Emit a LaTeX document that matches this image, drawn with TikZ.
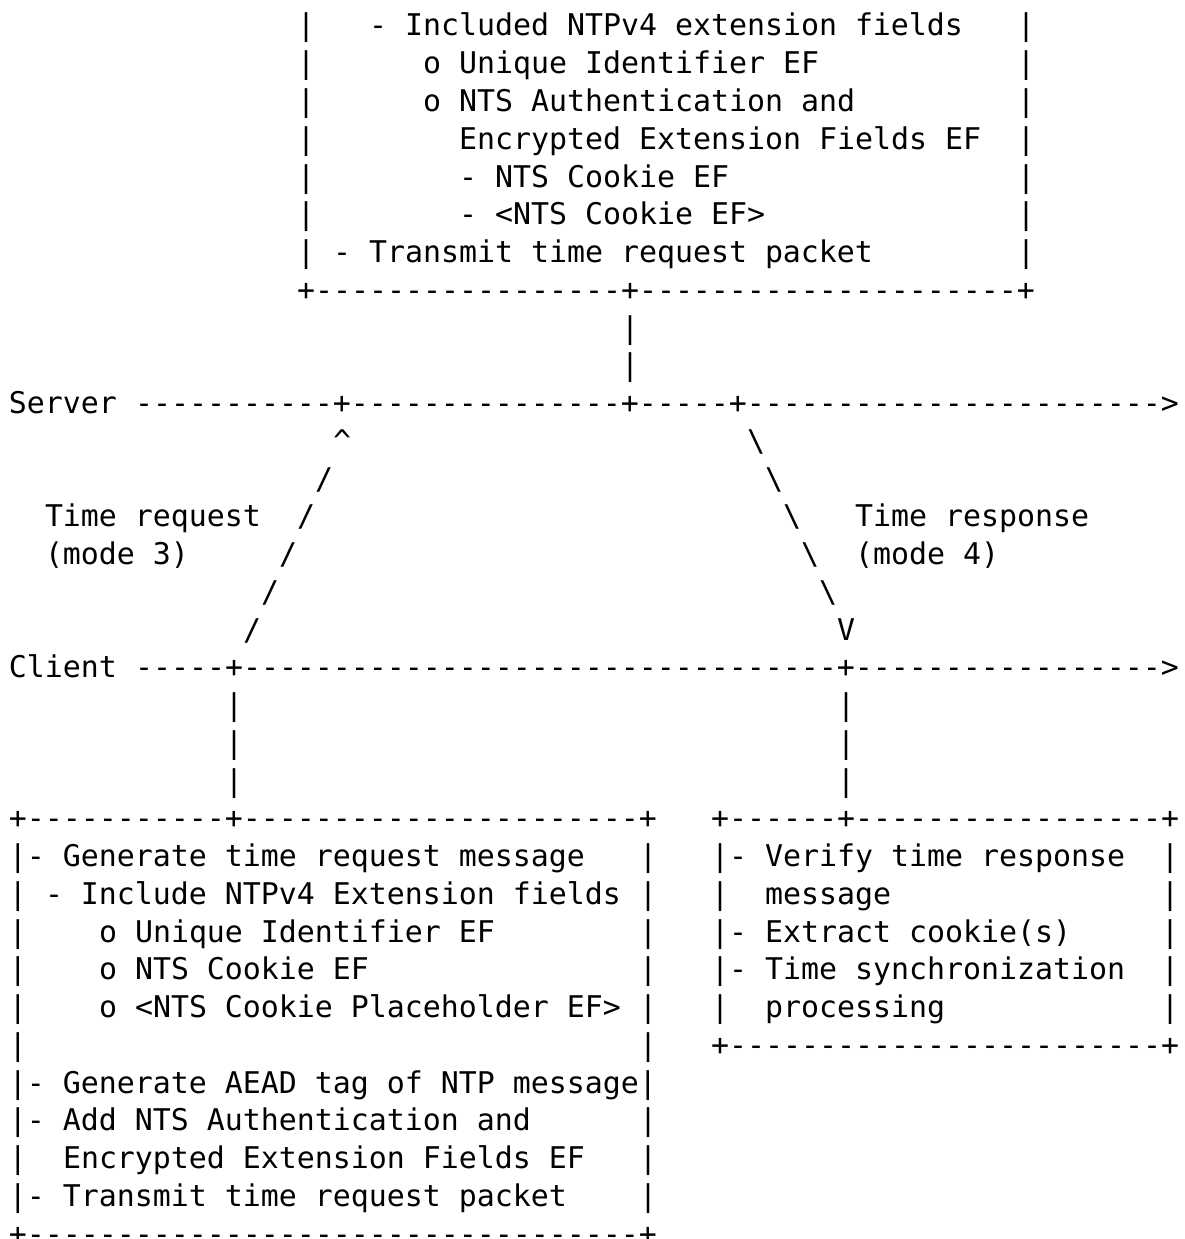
\documentclass[tikz,border=0pt]{standalone}
\usepackage{fontspec}
\setmonofont{DejaVu Sans Mono}
\ExplSyntaxOn
\NewDocumentCommand\dashes{m}{\prg_replicate:nn{#1}{-}}
\ExplSyntaxOff
\tikzset{asc/.style={anchor=base west, inner sep=0pt, outer sep=0pt, text=black,
  font=\ttfamily\fontsize{29.9pt}{36pt}\selectfont}}
% place text segment: name, column, line, text
\newcommand\seg[4]{\node[asc] (#1) at ({9+18*#2},{-(36+37.75*#3)}) {#4};}
\begin{document}
\begin{tikzpicture}[x=1pt,y=1pt]
\fill[white] (0,0) rectangle (1184,-1239);
\useasboundingbox (0,0) rectangle (1184,-1239);
% top box (client request processing)
\seg{ta0}{16}{0}{|}\seg{tb0}{20}{0}{- Included NTPv4 extension fields}\seg{tc0}{56}{0}{|}
\seg{ta1}{16}{1}{|}\seg{tb1}{23}{1}{o Unique Identifier EF}\seg{tc1}{56}{1}{|}
\seg{ta2}{16}{2}{|}\seg{tb2}{23}{2}{o NTS Authentication and}\seg{tc2}{56}{2}{|}
\seg{ta3}{16}{3}{|}\seg{tb3}{25}{3}{Encrypted Extension Fields EF}\seg{tc3}{56}{3}{|}
\seg{ta4}{16}{4}{|}\seg{tb4}{25}{4}{- NTS Cookie EF}\seg{tc4}{56}{4}{|}
\seg{ta5}{16}{5}{|}\seg{tb5}{25}{5}{- <NTS Cookie EF>}\seg{tc5}{56}{5}{|}
\seg{ta6}{16}{6}{|}\seg{tb6}{18}{6}{- Transmit time request packet}\seg{tc6}{56}{6}{|}
\seg{tbot}{16}{7}{+\dashes{17}+\dashes{21}+}
\seg{tv8}{34}{8}{|}
\seg{tv9}{34}{9}{|}
% server line
\seg{server}{0}{10}{Server}
\seg{sline}{7}{10}{\dashes{11}+\dashes{15}+\dashes{5}+\dashes{23}>}
% request / response diagonals
\seg{up}{18}{11}{\textasciicircum}\seg{r11}{41}{11}{\textbackslash}
\seg{q12}{17}{12}{/}\seg{r12}{42}{12}{\textbackslash}
\seg{treq}{2}{13}{Time request}\seg{q13}{16}{13}{/}\seg{r13}{43}{13}{\textbackslash}\seg{tresp}{47}{13}{Time response}
\seg{m3}{2}{14}{(mode 3)}\seg{q14}{15}{14}{/}\seg{r14}{44}{14}{\textbackslash}\seg{m4}{47}{14}{(mode 4)}
\seg{q15}{14}{15}{/}\seg{r15}{45}{15}{\textbackslash}
\seg{q16}{13}{16}{/}\seg{down}{46}{16}{V}
% client line
\seg{client}{0}{17}{Client}
\seg{cline}{7}{17}{\dashes{5}+\dashes{33}+\dashes{17}>}
\seg{cva18}{12}{18}{|}\seg{cvb18}{46}{18}{|}
\seg{cva19}{12}{19}{|}\seg{cvb19}{46}{19}{|}
\seg{cva20}{12}{20}{|}\seg{cvb20}{46}{20}{|}
% bottom boxes
\seg{ltop}{0}{21}{+\dashes{11}+\dashes{22}+}\seg{rtop}{39}{21}{+\dashes{6}+\dashes{17}+}
\seg{la22}{0}{22}{|- Generate time request message}\seg{lc22}{35}{22}{|}\seg{ra22}{39}{22}{|- Verify time response}\seg{rc22}{64}{22}{|}
\seg{la23}{0}{23}{|}\seg{lb23}{2}{23}{- Include NTPv4 Extension fields}\seg{lc23}{35}{23}{|}\seg{ra23}{39}{23}{|}\seg{rb23}{42}{23}{message}\seg{rc23}{64}{23}{|}
\seg{la24}{0}{24}{|}\seg{lb24}{5}{24}{o Unique Identifier EF}\seg{lc24}{35}{24}{|}\seg{ra24}{39}{24}{|- Extract cookie(s)}\seg{rc24}{64}{24}{|}
\seg{la25}{0}{25}{|}\seg{lb25}{5}{25}{o NTS Cookie EF}\seg{lc25}{35}{25}{|}\seg{ra25}{39}{25}{|- Time synchronization}\seg{rc25}{64}{25}{|}
\seg{la26}{0}{26}{|}\seg{lb26}{5}{26}{o <NTS Cookie Placeholder EF>}\seg{lc26}{35}{26}{|}\seg{ra26}{39}{26}{|}\seg{rb26}{42}{26}{processing}\seg{rc26}{64}{26}{|}
\seg{la27}{0}{27}{|}\seg{lc27}{35}{27}{|}\seg{rbot}{39}{27}{+\dashes{24}+}
\seg{la28}{0}{28}{|- Generate AEAD tag of NTP message|}
\seg{la29}{0}{29}{|- Add NTS Authentication and}\seg{lc29}{35}{29}{|}
\seg{la30}{0}{30}{|}\seg{lb30}{3}{30}{Encrypted Extension Fields EF}\seg{lc30}{35}{30}{|}
\seg{la31}{0}{31}{|- Transmit time request packet}\seg{lc31}{35}{31}{|}
\seg{lbot}{0}{32}{+\dashes{34}+}
\end{tikzpicture}
\end{document}
